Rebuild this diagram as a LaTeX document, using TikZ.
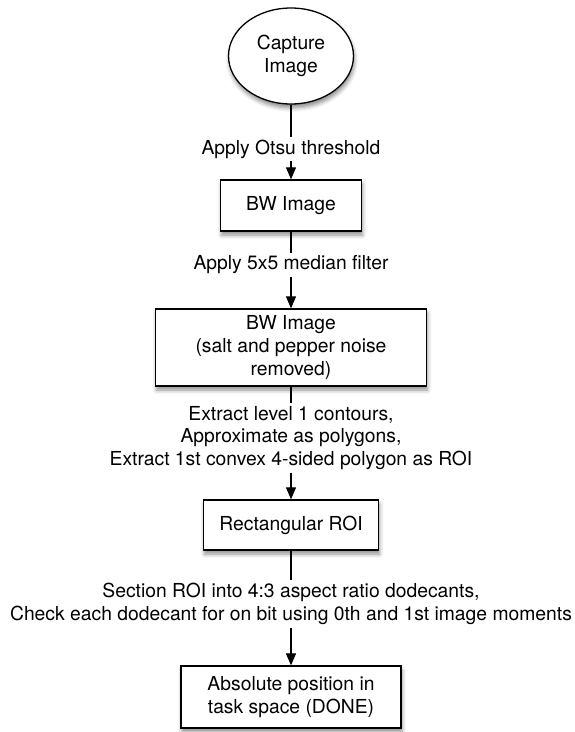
\documentclass[tikz,border=0pt]{standalone}
\usepackage{fontspec}
\setmainfont{TeX Gyre Heros}
\usetikzlibrary{shapes.geometric,arrows.meta,shadows.blur}
\begin{document}
\begin{tikzpicture}[x=1pt,y=-1pt,
  base/.style={font=\fontsize{19.3}{22.7}\selectfont, align=center},
  shade/.style={blur shadow={shadow xshift=1pt, shadow yshift=-4pt, shadow blur radius=4pt, shadow opacity=45}},
  stepbox/.style={base, rectangle, draw=black, line width=1.3pt, fill=white, inner sep=0pt, shade},
  startnode/.style={base, ellipse, draw=black, line width=1.3pt, fill=white, inner sep=0pt, shade},
  lbl/.style={base, fill=white, inner xsep=2pt, inner ysep=3pt},
  conn/.style={draw=black, line width=1.2pt, -{Triangle[length=12pt,width=10pt]}}]
\useasboundingbox (0,0) rectangle (574,732);
\node[startnode, minimum width=125pt, minimum height=96pt] (cap) at (291,56) {Capture\\Image};
\node[stepbox, minimum width=141pt, minimum height=51pt] (bw1) at (291,205.5) {BW Image};
\node[stepbox, minimum width=271pt, minimum height=77pt] (bw2) at (291,347.5) {BW Image\\(salt and pepper noise\\removed)};
\node[stepbox, minimum width=175pt, minimum height=50pt] (roi) at (291,525) {Rectangular ROI};
\node[stepbox, minimum width=220pt, minimum height=62pt] (done) at (291,697) {Absolute position in\\task space (DONE)};
\draw[conn] (cap) -- (bw1);
\draw[conn] (bw1) -- (bw2);
\draw[conn] (bw2) -- (roi);
\draw[conn] (roi) -- (done);
\node[lbl] (l1) at (291,149) {Apply Otsu threshold};
\node[lbl] (l2) at (291,265) {Apply 5x5 median filter};
\node[lbl] (l3) at (291,438) {Extract level 1 contours,\\Approximate as polygons,\\Extract 1st convex 4-sided polygon as ROI};
\node[lbl] (l4) at (291,604) {Section ROI into 4:3 aspect ratio dodecants,\\Check each dodecant for on bit using 0th and 1st image moments};
\end{tikzpicture}
\end{document}
